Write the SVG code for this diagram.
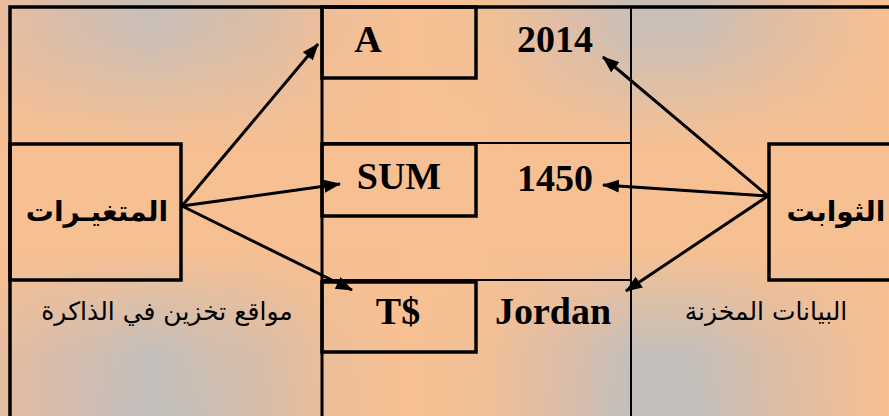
<svg xmlns="http://www.w3.org/2000/svg" width="889" height="416" viewBox="0 0 889 416">
  <defs>
    <linearGradient id="bgH" x1="0" y1="0" x2="889" y2="0" gradientUnits="userSpaceOnUse">
      <stop offset="0" stop-color="#E6BDA0"/>
      <stop offset="0.05" stop-color="#D8BCAA"/>
      <stop offset="0.17" stop-color="#C1BFBE"/>
      <stop offset="0.30" stop-color="#D8BDA8"/>
      <stop offset="0.36" stop-color="#EABE9C"/>
      <stop offset="0.45" stop-color="#F7C092"/>
      <stop offset="0.55" stop-color="#F0C097"/>
      <stop offset="0.64" stop-color="#D9BDAA"/>
      <stop offset="0.71" stop-color="#C2BFBD"/>
      <stop offset="0.78" stop-color="#C2BFBD"/>
      <stop offset="0.88" stop-color="#DDBDA5"/>
      <stop offset="1" stop-color="#F7C092"/>
    </linearGradient>
    <linearGradient id="bgV" x1="0" y1="0" x2="0" y2="416" gradientUnits="userSpaceOnUse">
      <stop offset="0" stop-color="#F7C092" stop-opacity="0.1"/>
      <stop offset="0.1" stop-color="#F7C092" stop-opacity="0.2"/>
      <stop offset="0.27" stop-color="#F7C092" stop-opacity="0.75"/>
      <stop offset="0.36" stop-color="#F7C092" stop-opacity="1"/>
      <stop offset="0.6" stop-color="#F7C092" stop-opacity="1"/>
      <stop offset="0.72" stop-color="#F7C092" stop-opacity="0.5"/>
      <stop offset="0.85" stop-color="#F7C092" stop-opacity="0.05"/>
      <stop offset="1" stop-color="#F7C092" stop-opacity="0"/>
    </linearGradient>
    <marker id="ah" markerUnits="userSpaceOnUse" markerWidth="18" markerHeight="14" refX="16" refY="6.5" orient="auto">
      <path d="M0,0 L17,6.5 L0,13 Z" fill="#000"/>
    </marker>
  </defs>
  <style>
    .box { fill: none; stroke: #000; stroke-width: 3.5; }
    .ln { stroke: #000; fill: none; }
    .lat { font-family: "Liberation Serif", serif; font-weight: bold; font-size: 38px; fill: #000; text-anchor: middle; }
    .ar { font-family: "DejaVu Sans", sans-serif; fill: #000; text-anchor: middle; }
    .arb { font-weight: bold; font-size: 28px; }
    .ars { font-size: 25px; }
    .arrow { stroke: #000; stroke-width: 3; fill: none; marker-end: url(#ah); }
  </style>

  <rect x="0" y="0" width="889" height="416" fill="url(#bgH)"/>
  <rect x="0" y="0" width="889" height="416" fill="url(#bgV)"/>

  <g id="frame">
    <path class="ln" d="M10,416 V7 H889" stroke-width="3.5"/>
    <line class="ln" x1="322" y1="7" x2="322" y2="416" stroke-width="3"/>
    <line class="ln" x1="631" y1="7" x2="631" y2="416" stroke-width="2"/>
    <line class="ln" x1="322" y1="143" x2="631" y2="143" stroke-width="1.8"/>
    <line class="ln" x1="322" y1="280" x2="631" y2="280" stroke-width="1.8"/>
  </g>

  <g id="node-variables">
    <rect class="box" x="10" y="144" width="171" height="136"/>
    <text class="ar arb" x="97" y="221" direction="rtl">المتغيـرات</text>
  </g>
  <g id="label-memory">
    <text class="ar ars" x="167" y="320" direction="rtl">مواقع تخزين في الذاكرة</text>
  </g>

  <g id="node-constants">
    <rect class="box" x="769" y="144" width="124" height="136"/>
    <text class="ar arb" x="836" y="221" direction="rtl">الثوابت</text>
  </g>
  <g id="label-data">
    <text class="ar ars" x="766" y="320" direction="rtl">البيانات المخزنة</text>
  </g>

  <g id="node-A">
    <rect class="box" x="322" y="7" width="154" height="71"/>
    <text class="lat" x="368" y="52">A</text>
  </g>
  <g id="node-SUM">
    <rect class="box" x="322" y="144" width="154" height="72"/>
    <text class="lat" x="399" y="189">SUM</text>
  </g>
  <g id="node-T">
    <rect class="box" x="322" y="282" width="154" height="70"/>
    <text class="lat" x="398" y="324">T$</text>
  </g>
  <g id="value-2014">
    <text class="lat" x="555" y="52">2014</text>
  </g>
  <g id="value-1450">
    <text class="lat" x="555" y="191">1450</text>
  </g>
  <g id="value-Jordan">
    <text class="lat" x="553" y="324">Jordan</text>
  </g>

  <g id="connectors">
    <line class="arrow" x1="182" y1="206" x2="318" y2="44"/>
    <line class="arrow" x1="182" y1="206" x2="340" y2="184"/>
    <line class="arrow" x1="182" y1="206" x2="352" y2="290"/>
    <line class="arrow" x1="768" y1="196" x2="603" y2="57"/>
    <line class="arrow" x1="768" y1="196" x2="603" y2="185"/>
    <line class="arrow" x1="768" y1="196" x2="626" y2="291"/>
  </g>
</svg>
